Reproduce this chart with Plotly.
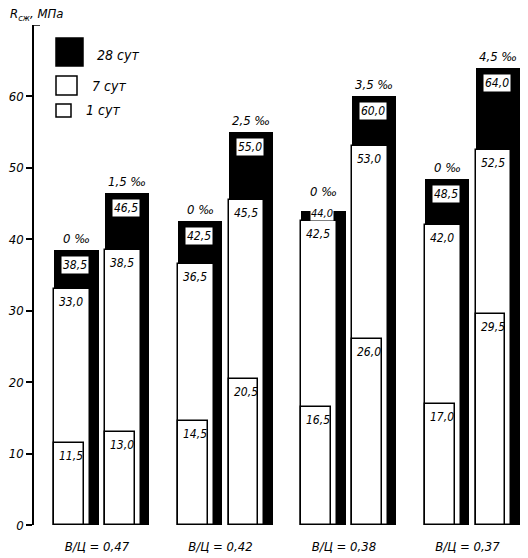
import plotly.graph_objects as go

# В/Ц groups, two bars per group (left: no additive, right: with additive)
groups = ["В/Ц = 0,47", "В/Ц = 0,42", "В/Ц = 0,38", "В/Ц = 0,37"]

r28_left = [38.5, 42.5, 44.0, 48.5]
r7_left = [33.0, 36.5, 42.5, 42.0]
r1_left = [11.5, 14.5, 16.5, 17.0]
dose_left = ["0", "0", "0", "0"]

r28_right = [46.5, 55.0, 60.0, 64.0]
r7_right = [38.5, 45.5, 53.0, 52.5]
r1_right = [13.0, 20.5, 26.0, 29.5]
dose_right = ["1,5", "2,5", "3,5", "4,5"]

FONT = "Liberation Sans Narrow, DejaVu Sans Condensed, Liberation Sans, sans-serif"
W28, W7, W1 = 0.36, 0.29, 0.24


def fmt(v):
    return f"{v:.1f}".replace(".", ",")


xg = list(range(len(groups)))
fig = go.Figure()
annotations = []

for offset, r28, r7, r1, dose in [
    (-0.385, r28_left, r7_left, r1_left, dose_left),
    (0.025, r28_right, r7_right, r1_right, dose_right),
]:
    fig.add_trace(go.Bar(x=xg, y=r28, width=W28, offset=offset,
                         marker=dict(color="black", line=dict(width=0)),
                         showlegend=False, hoverinfo="y"))
    fig.add_trace(go.Bar(x=xg, y=r7, width=W7, offset=offset,
                         marker=dict(color="white", line=dict(color="black", width=1.5)),
                         showlegend=False, hoverinfo="y"))
    fig.add_trace(go.Bar(x=xg, y=r1, width=W1, offset=offset,
                         marker=dict(color="white", line=dict(color="black", width=1.5)),
                         showlegend=False, hoverinfo="y"))

    for g in xg:
        close = r28[g] - r7[g] < 3
        # additive dose above the bar
        annotations.append(dict(x=g + offset + W28 / 2, y=r28[g], xref="x", yref="y",
                                text=f"{dose[g]} ‰", showarrow=False,
                                yanchor="bottom", yshift=10 if close else 2,
                                font=dict(family=FONT, size=13, style="italic", color="black")))
        # 28-day value in white box; squeezed between the tops when they are close
        annotations.append(dict(x=g + offset + W28 / 2 - 0.01,
                                y=r7[g] if close else r28[g], xref="x", yref="y",
                                text=fmt(r28[g]), showarrow=False,
                                yanchor="bottom" if close else "top",
                                yshift=0 if close else -6,
                                bgcolor="white", borderpad=0 if close else 1,
                                font=dict(family=FONT, size=11 if close else 12,
                                          style="italic", color="black")))
        # 7-day and 1-day values
        for v in (r7[g], r1[g]):
            annotations.append(dict(x=g + offset, y=v, xref="x", yref="y",
                                    text=fmt(v), showarrow=False,
                                    xanchor="left", xshift=3,
                                    yanchor="top", yshift=-4,
                                    font=dict(family=FONT, size=12, style="italic", color="black")))

# axis title
annotations.append(dict(x=0, y=1, xref="paper", yref="paper",
                        text="R<sub>сж</sub>, МПа", showarrow=False,
                        xanchor="left", yanchor="bottom", xshift=-26, yshift=0,
                        font=dict(family=FONT, size=13, style="italic", color="black")))

# hand-drawn legend
legend_items = [("28 сут", "black", (22, 49), (-41, -13), 61, -30),
                ("7 сут", "white", (22, 43), (-70, -51), 56, -61),
                ("1 сут", "white", (22, 37), (-92, -79), 50, -85)]
shapes = []
for label, color, (lx0, lx1), (ly0, ly1), tx, ty in legend_items:
    shapes.append(dict(type="rect", xref="paper", yref="paper",
                       xsizemode="pixel", ysizemode="pixel", xanchor=0, yanchor=1,
                       x0=lx0, x1=lx1, y0=ly0, y1=ly1,
                       fillcolor=color, line=dict(color="black", width=1.5)))
    annotations.append(dict(x=0, y=1, xref="paper", yref="paper", text=label,
                            showarrow=False, xanchor="left", yanchor="middle",
                            xshift=tx, yshift=ty,
                            font=dict(family=FONT, size=14, style="italic", color="black")))

# short tick at the top of the axis
shapes.append(dict(type="line", xref="paper", yref="y", xsizemode="pixel", xanchor=0,
                   x0=0, x1=6, y0=70, y1=70, line=dict(color="black", width=1.5)))

fig.update_layout(
    width=528, height=558,
    margin=dict(l=34, r=0, t=25, b=33),
    paper_bgcolor="white", plot_bgcolor="white",
    barmode="overlay", bargap=0,
    showlegend=False,
    annotations=annotations,
    shapes=shapes,
    xaxis=dict(range=[-0.55, 3.45], tickvals=[g - 0.04 for g in xg], ticktext=groups,
               showline=False, showgrid=False, zeroline=False, ticks="",
               ticklabelstandoff=12,
               tickfont=dict(family=FONT, size=13, style="italic", color="black")),
    yaxis=dict(range=[0, 70], tickvals=[0, 10, 20, 30, 40, 50, 60],
               showline=True, linecolor="black", linewidth=1.5,
               ticks="outside", ticklen=6, tickwidth=1.5, tickcolor="black",
               showgrid=False, zeroline=False,
               tickfont=dict(family=FONT, size=13, style="italic", color="black")),
)

fig.write_html("out.html", config={"displayModeBar": False},
               post_script="document.body.style.margin='0';document.body.style.overflow='hidden';")
